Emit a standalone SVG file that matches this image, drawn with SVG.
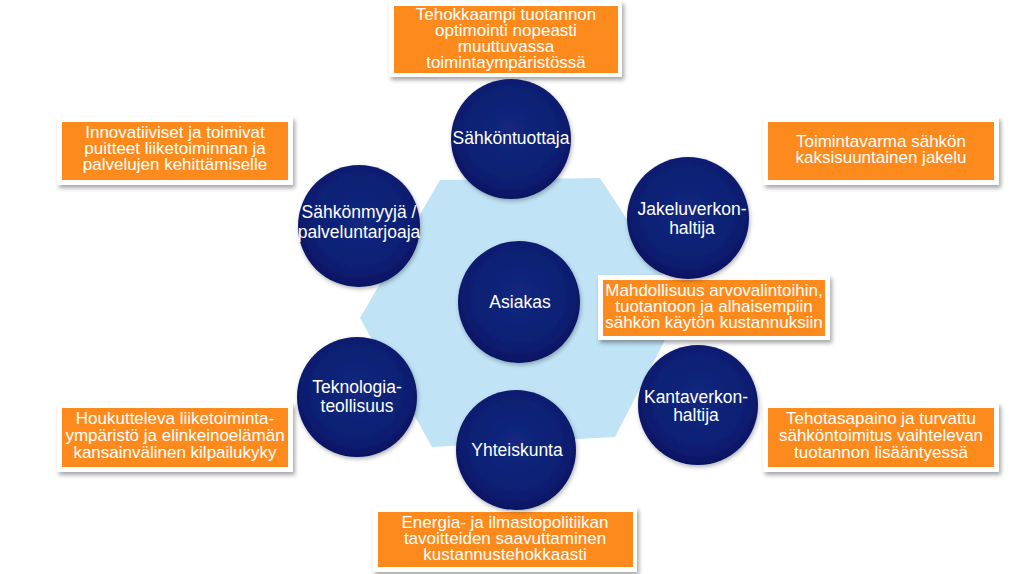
<svg xmlns="http://www.w3.org/2000/svg" width="1024" height="574" viewBox="0 0 1024 574">
<defs>
<radialGradient id="navy" cx="50%" cy="45%" r="55%">
<stop offset="0" stop-color="#13287f"/>
<stop offset="0.75" stop-color="#0c1f72"/>
<stop offset="1" stop-color="#061462"/>
</radialGradient>
<filter id="sh" x="-10%" y="-10%" width="125%" height="130%">
<feDropShadow dx="2" dy="3" stdDeviation="2" flood-color="#000" flood-opacity="0.35"/>
</filter>
<filter id="csh" x="-10%" y="-10%" width="125%" height="125%">
<feDropShadow dx="1" dy="2" stdDeviation="2" flood-color="#000" flood-opacity="0.3"/>
</filter>
</defs>
<style>
.frame{fill:#ffffff;filter:url(#sh)}
.box{fill:#fd8a1d}
.circ{fill:url(#navy);filter:url(#csh)}
text{font-family:"Liberation Sans",Arial,sans-serif;fill:#ffffff;text-anchor:middle}
.bt{font-size:17px}
.ct{font-size:17.5px}
</style>
<rect width="1024" height="574" fill="#ffffff"/>
<polygon id="hexagon" points="440,180 600,178 683,305 615,437 432,447 360,318" fill="#c0e3f6"/>

<g id="connectors"></g>

<g id="box-tuottaja">
<rect class="frame" x="389" y="1" width="233" height="76"/>
<rect class="box" x="394" y="6" width="224" height="67"/>
<text class="bt" x="506" y="20">Tehokkaampi tuotannon</text>
<text class="bt" x="506" y="36">optimointi nopeasti</text>
<text class="bt" x="506" y="52">muuttuvassa</text>
<text class="bt" x="506" y="68">toimintaympäristössä</text>
</g>

<g id="box-myyja">
<rect class="frame" x="57" y="117" width="236" height="68"/>
<rect class="box" x="62" y="122" width="226" height="58"/>
<text class="bt" x="175" y="138">Innovatiiviset ja toimivat</text>
<text class="bt" x="175" y="154">puitteet liiketoiminnan ja</text>
<text class="bt" x="175" y="170">palvelujen kehittämiselle</text>
</g>

<g id="box-jakelu">
<rect class="frame" x="763" y="117" width="236" height="68"/>
<rect class="box" x="768" y="122" width="226" height="58"/>
<text class="bt" x="881" y="147">Toimintavarma sähkön</text>
<text class="bt" x="881" y="163">kaksisuuntainen jakelu</text>
</g>

<g id="box-asiakas">
<rect class="frame" x="598" y="275" width="232" height="65"/>
<rect class="box" x="603" y="280" width="222" height="56"/>
<text class="bt" x="714" y="296">Mahdollisuus arvovalintoihin,</text>
<text class="bt" x="714" y="312">tuotantoon ja alhaisempiin</text>
<text class="bt" x="714" y="328">sähkön käytön kustannuksiin</text>
</g>

<g id="box-kanta">
<rect class="frame" x="763" y="403" width="236" height="69"/>
<rect class="box" x="768" y="408" width="226" height="59"/>
<text class="bt" x="881" y="424">Tehotasapaino ja turvattu</text>
<text class="bt" x="881" y="441">sähköntoimitus vaihtelevan</text>
<text class="bt" x="881" y="458">tuotannon lisääntyessä</text>
</g>

<g id="box-teknologia">
<rect class="frame" x="57" y="403" width="236" height="69"/>
<rect class="box" x="62" y="408" width="226" height="59"/>
<text class="bt" x="175" y="424">Houkutteleva liiketoiminta-</text>
<text class="bt" x="175" y="441">ympäristö ja elinkeinoelämän</text>
<text class="bt" x="175" y="458">kansainvälinen kilpailukyky</text>
</g>

<g id="box-yhteiskunta">
<rect class="frame" x="373" y="507" width="264" height="65"/>
<rect class="box" x="378" y="512" width="255" height="55"/>
<text class="bt" x="505" y="528">Energia- ja ilmastopolitiikan</text>
<text class="bt" x="505" y="544">tavoitteiden saavuttaminen</text>
<text class="bt" x="505" y="560">kustannustehokkaasti</text>
</g>

<g id="node-sahkontuottaja">
<circle class="circ" cx="511" cy="139" r="60"/>
<text class="ct" x="511" y="144">Sähköntuottaja</text>
</g>

<g id="node-jakeluverkonhaltija">
<circle class="circ" cx="688" cy="218" r="61"/>
<text class="ct" x="692" y="215">Jakeluverkon-</text>
<text class="ct" x="692" y="234">haltija</text>
</g>

<g id="node-sahkonmyyja">
<circle class="circ" cx="359" cy="226" r="61"/>
<text class="ct" x="359" y="218">Sähkönmyyjä /</text>
<text class="ct" x="359" y="238">palveluntarjoaja</text>
</g>

<g id="node-asiakas">
<circle class="circ" cx="519" cy="302" r="61"/>
<text class="ct" x="520" y="308">Asiakas</text>
</g>

<g id="node-teknologiateollisuus">
<circle class="circ" cx="357" cy="397" r="60"/>
<text class="ct" x="357" y="393">Teknologia-</text>
<text class="ct" x="357" y="412">teollisuus</text>
</g>

<g id="node-yhteiskunta">
<circle class="circ" cx="516" cy="450" r="60"/>
<text class="ct" x="517" y="456">Yhteiskunta</text>
</g>

<g id="node-kantaverkonhaltija">
<circle class="circ" cx="698" cy="405" r="60"/>
<text class="ct" x="696" y="403">Kantaverkon-</text>
<text class="ct" x="696" y="421">haltija</text>
</g>
</svg>
